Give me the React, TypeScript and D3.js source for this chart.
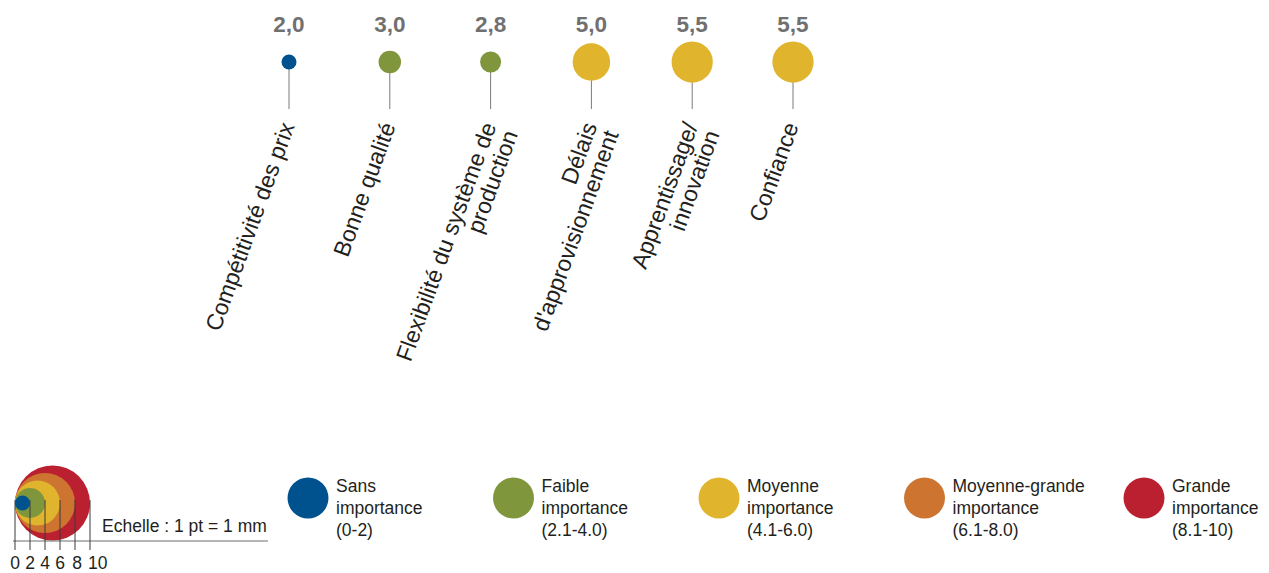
import React from "react";
import * as d3 from "d3";

// ---- data ----
const categories: string[][] = [
  ["Compétitivité des prix"],
  ["Bonne qualité"],
  ["Flexibilité du système de", "production"],
  ["Délais", "d'approvisionnement"],
  ["Apprentissage/", "innovation"],
  ["Confiance"],
];
const values: number[] = [2.0, 3.0, 2.8, 5.0, 5.5, 5.5];

const legendLabels: string[][] = [
  ["Sans", "importance", "(0-2)"],
  ["Faible", "importance", "(2.1-4.0)"],
  ["Moyenne", "importance", "(4.1-6.0)"],
  ["Moyenne-grande", "importance", "(6.1-8.0)"],
  ["Grande", "importance", "(8.1-10)"],
];
const legendColors: string[] = ["#00528e", "#7f963c", "#e0b52d", "#cd7530", "#ba202f"];
const classBreaks: number[] = [2.05, 4.05, 6.05, 8.05];

const scaleTicks: number[] = [0, 2, 4, 6, 8, 10];
const scaleCircles: number[] = [10, 8, 6, 4, 2];
const scaleCaption = "Echelle : 1 pt = 1 mm";

// ---- layout ----
const W = 1269;
const H = 573;
const FONT = "'Liberation Sans', Arial, Helvetica, sans-serif";

export default function App() {
  const x = d3
    .scalePoint<number>()
    .domain(d3.range(categories.length))
    .range([289, 793]);
  const r = d3.scaleLinear().domain([0, 10]).range([0, 37.5]);
  const color = d3.scaleThreshold<number, string>().domain(classBreaks).range(legendColors);
  const fmt = (v: number) => d3.format(".1f")(v).replace(".", ",");

  const cy = 62;
  const stemEnd = 109;
  const labelY = 126;
  const angle = -70;

  const legendX = d3.scalePoint<number>().domain(d3.range(legendLabels.length)).range([308, 1130]);
  const legendXs = legendLabels.map((_, i) => (i === legendLabels.length - 1 ? 1144 : legendX(i)!));
  const legendCy = 498;

  // scale legend
  const sx0 = 15;
  const scy = 503;
  const sx = d3.scaleLinear().domain([0, 10]).range([sx0, sx0 + 2 * r(10)]);

  return (
    <svg
      width={W}
      height={H}
      style={{ position: "absolute", left: 0, top: 0, background: "#fff" }}
      fontFamily={FONT}
    >
      {/* lollipops */}
      {values.map((v, i) => (
        <g key={i}>
          <line x1={x(i)} x2={x(i)} y1={cy} y2={stemEnd} stroke="#7a7a7a" strokeWidth={1} />
          <circle cx={x(i)} cy={cy} r={r(v)} fill={color(v)} />
          <text
            x={x(i)}
            y={32}
            textAnchor="middle"
            fontSize={22.5}
            fontWeight="bold"
            fill="#707070"
          >
            {fmt(v)}
          </text>
          <text
            transform={`translate(${x(i)! + 6},${labelY}) rotate(${angle})`}
            textAnchor="end"
            fontSize={23}
            fill="#231f20"
          >
            {categories[i].map((line, j) => (
              <tspan key={j} x={0} dy={j === 0 ? 0 : 23}>
                {line}
              </tspan>
            ))}
          </text>
        </g>
      ))}

      {/* scale legend */}
      {scaleCircles.map((v) => (
        <circle key={v} cx={sx0 + r(v)} cy={scy} r={r(v)} fill={color(v)} />
      ))}
      <line x1={13} x2={268} y1={541} y2={541} stroke="#6d6d6d" strokeWidth={1} />
      {scaleTicks.map((t) => (
        <g key={t}>
          <line x1={sx(t)} x2={sx(t)} y1={500} y2={550} stroke="#3a3a3a" strokeWidth={1} />
          <text
            x={t === 10 ? sx(t) - 2 : sx(t) + (t === 8 ? 2 : 0)}
            y={569}
            textAnchor={t === 10 ? "start" : "middle"}
            fontSize={17.5}
            fill="#231f20"
          >
            {t}
          </text>
        </g>
      ))}
      <text x={102} y={532} fontSize={17.5} fill="#231f20">
        {scaleCaption}
      </text>

      {/* class legend */}
      {legendLabels.map((lines, i) => (
        <g key={i}>
          <circle cx={legendXs[i]} cy={legendCy} r={20.5} fill={legendColors[i]} />
          <text x={legendXs[i] + 28} y={492} fontSize={17.5} fill="#231f20">
            {lines.map((l, j) => (
              <tspan key={j} x={legendXs[i] + 28} dy={j === 0 ? 0 : 22}>
                {l}
              </tspan>
            ))}
          </text>
        </g>
      ))}
    </svg>
  );
}
